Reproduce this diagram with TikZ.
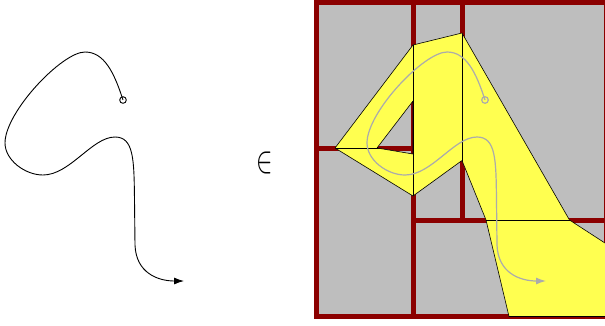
\documentclass[tikz,border=0pt]{standalone}
\usetikzlibrary{arrows.meta}
\definecolor{cellred}{HTML}{8B0000}
\definecolor{cellgray}{HTML}{BEBEBE}
\definecolor{blob}{HTML}{FFFF50}
\definecolor{ghost}{HTML}{ABABAB}
\newcommand{\cellpath}{(316.5,2.5) rectangle (606.5,316.5)
  (413,2.5) -- (413,316.5) (316.5,148) -- (413,148)
  (462,2.5) -- (462,220) (413,220) -- (606.5,220)}
\newcommand{\blobpath}{(tip) -- (nw) -- (ne) -- (rk) -- (re) -- (br)
  -- (bl) -- (lk) -- (nk) -- (sk) -- cycle (h1) -- (h2) -- (h3) -- cycle}

\begin{document}
\begin{tikzpicture}[x=1pt,y=-1pt,
    cellwall/.style={line width=5pt,cellred},
    thinline/.style={line width=.6pt,black},
    traj/.pic={
      \draw[-{Latex[length=10pt,width=7pt]}] (123,100)
        .. controls (114,72) and (104,52) .. (85,52)
        .. controls (62,52) and (5,112) .. (5,143)
        .. controls (5,160) and (25,175) .. (43,175)
        .. controls (70,175) and (92,137) .. (115,137)
        .. controls (134,137) and (134,160) .. (134.5,200)
        -- (135,245)
        .. controls (136,273) and (158,281) .. (184,281);
      \draw (123,100) circle[radius=3.3pt];
    }]
  \useasboundingbox (0,0) rectangle (605,325);

  % region vertices
  \coordinate (tip) at (335,148);
  \coordinate (nw) at (413,45);
  \coordinate (ne) at (462,33);
  \coordinate (rk) at (569.5,220);
  \coordinate (re) at (606.5,244);
  \coordinate (br) at (606.5,316.5);
  \coordinate (bl) at (509,316.5);
  \coordinate (lk) at (486,220);
  \coordinate (nk) at (462,160.5);
  \coordinate (sk) at (413,196);
  \coordinate (h1) at (377,148);
  \coordinate (h2) at (413,101);
  \coordinate (h3) at (413,154);

  \fill[cellgray] (316.5,2.5) rectangle (606.5,316.5);
  \begin{scope}[even odd rule]
    \clip (-10,-10) rectangle (620,340) \blobpath;
    \draw[cellwall] \cellpath;
  \end{scope}
  \fill[blob,even odd rule] \blobpath;
  \begin{scope}[even odd rule]
    \clip \blobpath;
    \draw[thinline] \cellpath;
  \end{scope}
  \draw[thinline,line join=bevel] \blobpath;

  \pic[ghost,line width=1.2pt] at (362,0) {traj};
  \pic[black,line width=.9pt] at (0,0) {traj};

  \node[inner sep=0pt] (member) at (265,162.5) {\resizebox*{16.4pt}{22pt}{$\in$}};
\end{tikzpicture}
\end{document}
